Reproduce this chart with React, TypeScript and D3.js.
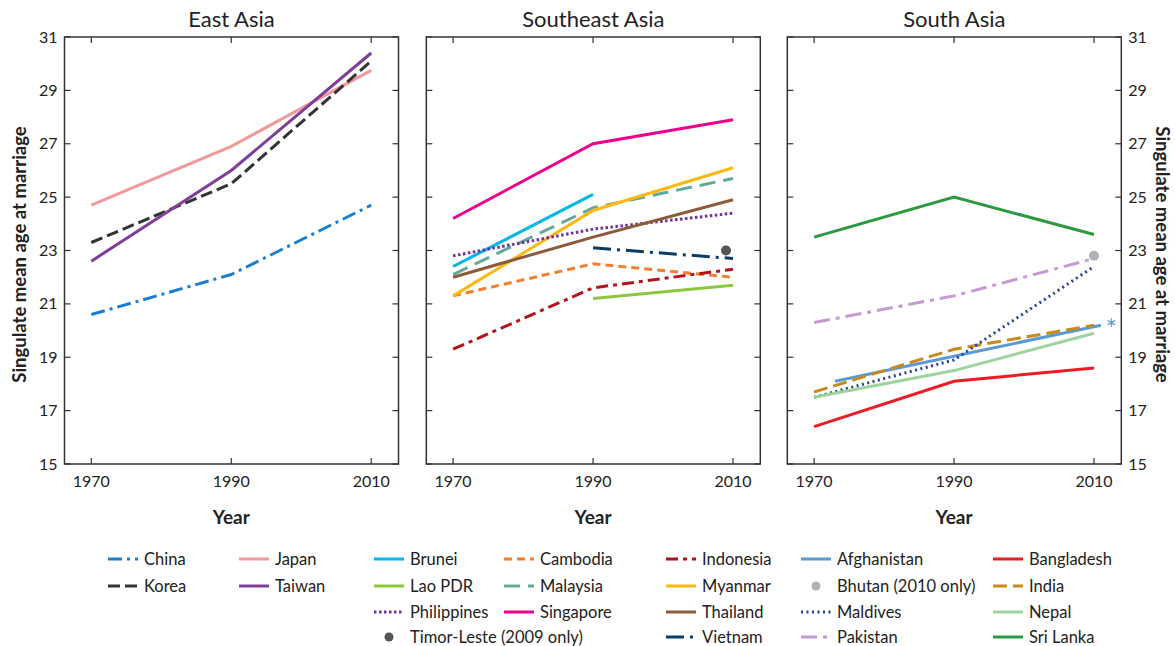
import React from "react";
import * as d3 from "d3";

// ---------- data ----------
const years = [1970, 1990, 2010];
const yTicks = [15, 17, 19, 21, 23, 25, 27, 29, 31];
const panelTitles = ["East Asia", "Southeast Asia", "South Asia"];

const eastAsia = ["China", "Japan", "Korea", "Taiwan"];
const southeastAsia = ["Brunei", "Cambodia", "Indonesia", "Lao PDR", "Malaysia", "Myanmar", "Philippines", "Singapore", "Thailand", "Vietnam"];
const southAsia = ["Afghanistan", "Bangladesh", "India", "Maldives", "Nepal", "Pakistan", "Sri Lanka"];

const chinaYears = [1970, 1990, 2010];
const chinaValues = [20.6, 22.1, 24.7];
const japanYears = [1970, 1990, 2010];
const japanValues = [24.7, 26.9, 29.75];
const koreaYears = [1970, 1990, 2010];
const koreaValues = [23.3, 25.5, 30.1];
const taiwanYears = [1970, 1990, 2010];
const taiwanValues = [22.6, 26.0, 30.4];

const bruneiYears = [1970, 1990];
const bruneiValues = [22.4, 25.1];
const cambodiaYears = [1970, 1990, 2010];
const cambodiaValues = [21.3, 22.5, 22.0];
const indonesiaYears = [1970, 1990, 2010];
const indonesiaValues = [19.3, 21.6, 22.3];
const laoYears = [1990, 2010];
const laoValues = [21.2, 21.7];
const malaysiaYears = [1970, 1990, 2010];
const malaysiaValues = [22.1, 24.6, 25.7];
const myanmarYears = [1970, 1990, 2010];
const myanmarValues = [21.3, 24.5, 26.1];
const philippinesYears = [1970, 1990, 2010];
const philippinesValues = [22.8, 23.8, 24.4];
const singaporeYears = [1970, 1990, 2010];
const singaporeValues = [24.2, 27.0, 27.9];
const thailandYears = [1970, 1990, 2010];
const thailandValues = [22.0, 23.5, 24.9];
const vietnamYears = [1990, 2010];
const vietnamValues = [23.1, 22.7];
const timorYear = 2009;
const timorValue = 23.0;

const afghanistanYears = [1973, 2011];
const afghanistanValues = [18.1, 20.2];
const bangladeshYears = [1970, 1990, 2010];
const bangladeshValues = [16.4, 18.1, 18.6];
const indiaYears = [1970, 1990, 2010];
const indiaValues = [17.7, 19.3, 20.2];
const maldivesYears = [1970, 1990, 2010];
const maldivesValues = [17.5, 18.9, 22.4];
const nepalYears = [1970, 1990, 2010];
const nepalValues = [17.5, 18.5, 19.9];
const pakistanYears = [1970, 1990, 2010];
const pakistanValues = [20.3, 21.3, 22.7];
const sriLankaYears = [1970, 1990, 2010];
const sriLankaValues = [23.5, 25.0, 23.6];
const bhutanYear = 2010;
const bhutanValue = 22.8;

const seriesData: Record<string, { years: number[]; values: number[] }> = {
  China: { years: chinaYears, values: chinaValues },
  Japan: { years: japanYears, values: japanValues },
  Korea: { years: koreaYears, values: koreaValues },
  Taiwan: { years: taiwanYears, values: taiwanValues },
  Brunei: { years: bruneiYears, values: bruneiValues },
  Cambodia: { years: cambodiaYears, values: cambodiaValues },
  Indonesia: { years: indonesiaYears, values: indonesiaValues },
  "Lao PDR": { years: laoYears, values: laoValues },
  Malaysia: { years: malaysiaYears, values: malaysiaValues },
  Myanmar: { years: myanmarYears, values: myanmarValues },
  Philippines: { years: philippinesYears, values: philippinesValues },
  Singapore: { years: singaporeYears, values: singaporeValues },
  Thailand: { years: thailandYears, values: thailandValues },
  Vietnam: { years: vietnamYears, values: vietnamValues },
  Afghanistan: { years: afghanistanYears, values: afghanistanValues },
  Bangladesh: { years: bangladeshYears, values: bangladeshValues },
  India: { years: indiaYears, values: indiaValues },
  Maldives: { years: maldivesYears, values: maldivesValues },
  Nepal: { years: nepalYears, values: nepalValues },
  Pakistan: { years: pakistanYears, values: pakistanValues },
  "Sri Lanka": { years: sriLankaYears, values: sriLankaValues },
};

// ---------- styles ----------
const styles: Record<string, { color: string; dash?: string }> = {
  China: { color: "#1b7fd0", dash: "14 5 3 5" },
  Japan: { color: "#f4999b" },
  Korea: { color: "#333333", dash: "12 5" },
  Taiwan: { color: "#7f3f98" },
  Brunei: { color: "#00b6ef" },
  Cambodia: { color: "#f47f30", dash: "8 5" },
  Indonesia: { color: "#b5121b", dash: "12 5 4 5" },
  "Lao PDR": { color: "#8dc63f" },
  Malaysia: { color: "#64a99b", dash: "16 8" },
  Myanmar: { color: "#fdb913" },
  Philippines: { color: "#7030a0", dash: "2.5 2.5" },
  Singapore: { color: "#ec008c" },
  Thailand: { color: "#8c5b3a" },
  Vietnam: { color: "#0b3c68", dash: "18 6 3 6" },
  Afghanistan: { color: "#5b9bd5" },
  Bangladesh: { color: "#ed1c24" },
  India: { color: "#c98a1c", dash: "14 6" },
  Maldives: { color: "#2b3f9f", dash: "2 3.5" },
  Nepal: { color: "#9dd39c" },
  Pakistan: { color: "#c49ad0", dash: "16 6 4 6" },
  "Sri Lanka": { color: "#2e9a40" },
  "Timor-Leste (2009 only)": { color: "#555555" },
  "Bhutan (2010 only)": { color: "#b2b2b6" },
};

// legend layout: [label, column, row]
const legendItems: [string, number, number][] = [
  ["China", 0, 0], ["Korea", 0, 1],
  ["Japan", 1, 0], ["Taiwan", 1, 1],
  ["Brunei", 2, 0], ["Cambodia", 3, 0], ["Indonesia", 4, 0],
  ["Lao PDR", 2, 1], ["Malaysia", 3, 1], ["Myanmar", 4, 1],
  ["Philippines", 2, 2], ["Singapore", 3, 2], ["Thailand", 4, 2],
  ["Timor-Leste (2009 only)", 2, 3], ["Vietnam", 4, 3],
  ["Afghanistan", 5, 0], ["Bangladesh", 6, 0],
  ["Bhutan (2010 only)", 5, 1], ["India", 6, 1],
  ["Maldives", 5, 2], ["Nepal", 6, 2],
  ["Pakistan", 5, 3], ["Sri Lanka", 6, 3],
];
const legendColX = [108, 239, 374, 504, 666, 801, 993];
const legendRowY = [559, 586, 612, 637];

const FONT = "Lato, 'Open Sans', sans-serif";

export default function App() {
  const panelX = [64.5, 426.3, 787.3];
  const panelW = 334;
  const top = 37;
  const bottom = 464;
  const y = d3.scaleLinear().domain([15, 31]).range([bottom, top]);
  const regions = [eastAsia, southeastAsia, southAsia];
  const tickLen = 6;

  return (
    <div style={{ position: "absolute", left: 0, top: 0 }}>
      <svg width={1175} height={646} style={{ display: "block", fontFamily: FONT }}>
        <rect width={1175} height={646} fill="#fff" />
        {regions.map((names, pi) => {
          const x0 = panelX[pi];
          const x = d3.scaleLinear().domain([1966.17, 2013.9]).range([x0, x0 + panelW]);
          const line = d3
            .line<[number, number]>()
            .x((d) => x(d[0]))
            .y((d) => y(d[1]));
          return (
            <g key={pi}>
              <text x={x0 + panelW / 2} y={27} textAnchor="middle" fontSize={22} fill="#222">
                {panelTitles[pi]}
              </text>
              {yTicks.map((t) => (
                <g key={"y" + t}>
                  <line x1={x0} x2={x0 + tickLen} y1={y(t)} y2={y(t)} stroke="#333" strokeWidth={1.2} />
                  <line x1={x0 + panelW - tickLen} x2={x0 + panelW} y1={y(t)} y2={y(t)} stroke="#333" strokeWidth={1.2} />
                </g>
              ))}
              {years.map((yr) => (
                <g key={"x" + yr}>
                  <line x1={x(yr)} x2={x(yr)} y1={top} y2={top + tickLen} stroke="#333" strokeWidth={1.2} />
                  <line x1={x(yr)} x2={x(yr)} y1={bottom - tickLen} y2={bottom} stroke="#333" strokeWidth={1.2} />
                  <text x={x(yr)} y={bottom + 23} textAnchor="middle" fontSize={16} fill="#222">
                    {yr}
                  </text>
                </g>
              ))}
              <text x={x(1990)} y={bottom + 60} textAnchor="middle" fontSize={19} fontWeight="bold" fill="#222">
                Year
              </text>
              {names.map((n) => {
                const s = seriesData[n];
                const pts = s.years.map((yr, i) => [yr, s.values[i]] as [number, number]);
                return (
                  <path
                    key={n}
                    d={line(pts) || ""}
                    fill="none"
                    stroke={styles[n].color}
                    strokeWidth={3}
                    strokeDasharray={styles[n].dash}
                  />
                );
              })}
              {pi === 1 && (
                <circle cx={x(timorYear)} cy={y(timorValue)} r={5} fill={styles["Timor-Leste (2009 only)"].color} />
              )}
              {pi === 2 && (
                <>
                  <circle cx={x(bhutanYear)} cy={y(bhutanValue)} r={5} fill={styles["Bhutan (2010 only)"].color} />
                  <text x={x0 + panelW - 10} y={y(afghanistanValues[1]) + 14} textAnchor="middle" fontSize={27} fill={styles.Afghanistan.color}>
                    *
                  </text>
                </>
              )}
              <rect x={x0} y={top} width={panelW} height={bottom - top} fill="none" stroke="#333" strokeWidth={1.5} />
              {pi === 0 &&
                yTicks.map((t) => (
                  <text key={t} x={x0 - 7} y={y(t)} dy="0.35em" textAnchor="end" fontSize={16} fill="#222">
                    {t}
                  </text>
                ))}
              {pi === 2 &&
                yTicks.map((t) => (
                  <text key={t} x={x0 + panelW + 7} y={y(t)} dy="0.35em" textAnchor="start" fontSize={16} fill="#222">
                    {t}
                  </text>
                ))}
            </g>
          );
        })}
        <text
          transform={`translate(19,${(top + bottom) / 2 + 4}) rotate(-90)`}
          textAnchor="middle"
          dominantBaseline="central"
          fontSize={18.5}
          fontWeight="bold"
          fill="#222"
        >
          Singulate mean age at marriage
        </text>
        <text
          transform={`translate(1163,${(top + bottom) / 2 + 4}) rotate(90)`}
          textAnchor="middle"
          dominantBaseline="central"
          fontSize={18.5}
          fontWeight="bold"
          fill="#222"
        >
          Singulate mean age at marriage
        </text>
        {legendItems.map(([name, c, r]) => {
          const lx = legendColX[c];
          const ly = legendRowY[r];
          const st = styles[name];
          const isDot = name.includes("only");
          return (
            <g key={name}>
              {isDot ? (
                <circle cx={lx + 15} cy={ly} r={4.5} fill={st.color} />
              ) : (
                <line x1={lx} x2={lx + 30} y1={ly} y2={ly} stroke={st.color} strokeWidth={3} strokeDasharray={st.dash} />
              )}
              <text x={lx + 36} y={ly} dy="0.35em" fontSize={16.5} fill="#222">
                {name}
              </text>
            </g>
          );
        })}
      </svg>
    </div>
  );
}
